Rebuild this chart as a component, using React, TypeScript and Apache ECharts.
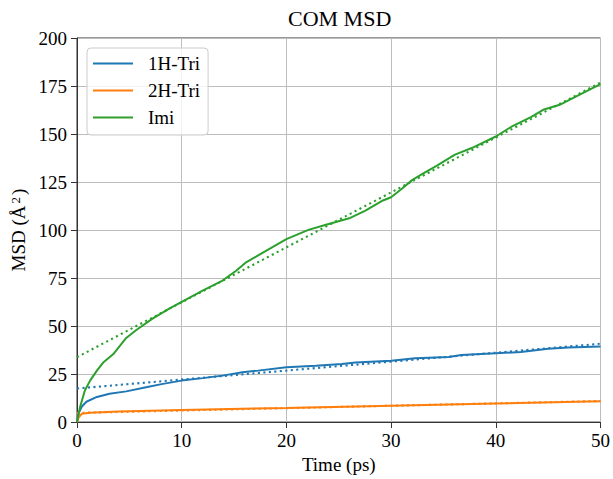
import React, { useEffect, useRef } from "react";
import * as echarts from "echarts";

// ---- data ----
const xTicks = [0, 10, 20, 30, 40, 50];
const yTicks = [0, 25, 50, 75, 100, 125, 150, 175, 200];

const triH1Time = [0, 0.15, 0.45, 0.9, 1.9, 3.1, 4.7, 6.6, 8.2, 10, 12, 13.9, 15.8, 17.3, 20, 22.8, 25.3, 26.6, 30, 32.3, 35.5, 36.7, 40, 42.4, 45, 46.9, 50];
const triH1Msd = [0, 4.6, 8, 10.6, 13.1, 14.8, 16, 18.2, 19.9, 21.6, 22.9, 24.2, 25.9, 26.8, 28.5, 29.3, 30.2, 31, 31.9, 33.2, 33.9, 34.9, 35.8, 36.5, 38.2, 38.9, 39.3];

const triH2Time = [0, 0.15, 0.45, 1.2, 4, 10, 17, 20, 30, 40, 50];
const triH2Msd = [0, 2.4, 4.3, 4.9, 5.5, 6.3, 7.1, 7.3, 8.5, 9.7, 10.9];

const imiTime = [0, 0.3, 0.75, 1.25, 1.9, 2.5, 3.45, 4.7, 5.7, 7.25, 8.85, 10, 12, 13.9, 15.2, 16.1, 17.3, 20, 22.1, 23.7, 26, 27.5, 29.1, 30, 31, 32, 33.2, 34.3, 36.1, 37.7, 40, 41.5, 43.4, 44.6, 46.1, 47.5, 50];
const imiMsd = [0, 8, 16.5, 21.6, 26.8, 31, 35.3, 43.8, 48.1, 54, 59.2, 62.6, 68.5, 73.7, 78.8, 83, 86.8, 95.3, 100.1, 102.6, 106.1, 110, 115.1, 117.1, 121.4, 126, 129.9, 133.3, 139.3, 142.7, 148.7, 153.8, 158.9, 162.8, 165.2, 169.1, 176];

const fitTime = [0, 50];
const fitH1 = [17.5, 40.8];
const fitH2 = [4.8, 11.0];
const fitImi = [33.8, 176.8];

const names = ["1H-Tri", "2H-Tri", "Imi"];
const colors = ["#1f77b4", "#ff7f0e", "#2ca02c"];

const FONT = "Liberation Serif";

function pairs(t: number[], v: number[]) {
  return t.map((x, i) => [x, v[i]]);
}

export default function App() {
  const ref = useRef<HTMLDivElement>(null);
  useEffect(() => {
    if (!ref.current) return;
    const chart = echarts.init(ref.current, undefined, { renderer: "svg" });
    const solid = (name: string, color: string, data: number[][]) => ({
      name,
      type: "line",
      data,
      showSymbol: false,
      symbol: "none",
      lineStyle: { color, width: 2 },
      itemStyle: { color },
      z: 3,
    });
    const dotted = (name: string, color: string, data: number[][]) => ({
      name,
      type: "line",
      data,
      showSymbol: false,
      symbol: "none",
      lineStyle: { color, width: 2.1, type: [2.1, 3.4] },
      itemStyle: { color },
      z: 3,
    });
    chart.setOption({
      animation: false,
      backgroundColor: "#ffffff",
      textStyle: { fontFamily: FONT },
      title: {
        text: "COM MSD",
        left: 288,
        top: 7,
        padding: 0,
        textStyle: { fontFamily: FONT, fontSize: 22, fontWeight: "normal", color: "#000" },
      },
      legend: {
        data: names,
        orient: "vertical",
        left: 87,
        top: 48,
        padding: [6, 8, 8, 6],
        icon: "rect",
        itemWidth: 40,
        itemHeight: 2.2,
        itemGap: 8,
        backgroundColor: "rgba(255,255,255,0.8)",
        borderColor: "#cccccc",
        borderWidth: 1,
        borderRadius: 4,
        textStyle: { fontFamily: FONT, fontSize: 19, color: "#000", padding: [0, 0, 0, 10] },
        z: 10,
      },
      grid: {
        left: 77,
        right: 10,
        top: 38,
        bottom: 50,
        show: true,
        borderColor: "#333",
        borderWidth: 1,
        backgroundColor: "transparent",
      },
      xAxis: {
        type: "value",
        min: xTicks[0],
        max: xTicks[xTicks.length - 1],
        interval: 10,
        name: "Time (ps)",
        nameLocation: "middle",
        nameGap: 30,
        nameTextStyle: { fontFamily: FONT, fontSize: 19, color: "#000" },
        axisLine: { show: true, lineStyle: { color: "#333", width: 1 } },
        axisTick: { show: true, inside: false, length: 6, lineStyle: { color: "#333" } },
        axisLabel: { fontFamily: FONT, fontSize: 19, color: "#000", margin: 9 },
        splitLine: { show: true, lineStyle: { color: "#bdbdbd", width: 1 } },
      },
      yAxis: {
        type: "value",
        min: yTicks[0],
        max: yTicks[yTicks.length - 1],
        interval: 25,
        name: "{n|MSD (}{a|Å}{s|2}{n|)}",
        nameLocation: "middle",
        nameRotate: 90,
        nameGap: 43,
        nameTextStyle: {
          fontFamily: FONT,
          fontSize: 19,
          color: "#000",
          rich: {
            n: { fontFamily: FONT, fontSize: 19, color: "#000" },
            a: { fontFamily: FONT, fontSize: 19, color: "#000" },
            s: { fontFamily: FONT, fontSize: 13, color: "#000", verticalAlign: "top", padding: [0, 2, 0, 2] },
          },
        },
        axisLine: { show: true, lineStyle: { color: "#333", width: 1 } },
        axisTick: { show: true, inside: false, length: 6, lineStyle: { color: "#333" } },
        axisLabel: { fontFamily: FONT, fontSize: 19, color: "#000", margin: 10 },
        splitLine: { show: true, lineStyle: { color: "#bdbdbd", width: 1 } },
      },
      series: [
        solid(names[0], colors[0], pairs(triH1Time, triH1Msd)),
        dotted("1H-Tri fit", colors[0], pairs(fitTime, fitH1)),
        solid(names[1], colors[1], pairs(triH2Time, triH2Msd)),
        dotted("2H-Tri fit", colors[1], pairs(fitTime, fitH2)),
        solid(names[2], colors[2], pairs(imiTime, imiMsd)),
        dotted("Imi fit", colors[2], pairs(fitTime, fitImi)),
      ],
    });
    return () => chart.dispose();
  }, []);
  return (
    <div
      ref={ref}
      style={{ position: "absolute", left: 0, top: 0, width: 613, height: 479 }}
    />
  );
}
